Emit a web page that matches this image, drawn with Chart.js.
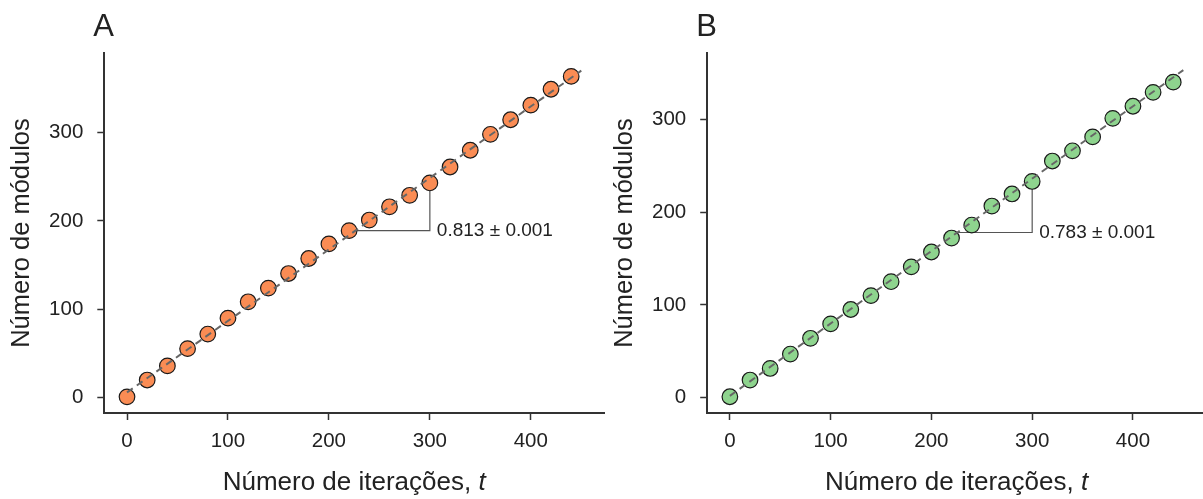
<!DOCTYPE html>
<html>
<head>
<meta charset="utf-8">
<script src="https://cdn.jsdelivr.net/npm/chart.js@4"></script>
<style>
  html, body { margin: 0; padding: 0; background: #fff; overflow: hidden; }
  body { width: 1203px; height: 499px; position: relative; }
  canvas { position: absolute; top: 0; }
  #panelA { left: 0; }
  #panelB { left: 600px; }
</style>
</head>
<body>
<canvas id="panelA" width="615" height="499"></canvas>
<canvas id="panelB" width="615" height="499"></canvas>
<script>
const iterations = [0, 20, 40, 60, 80, 100, 120, 140, 160, 180, 200, 220,
  240, 260, 280, 300, 320, 340, 360, 380, 400, 420, 440];
const modulesA = [1, 20, 36, 55.5, 72, 90, 108.5, 124, 140.5, 157.5, 174, 189,
  201, 216, 229, 243, 261, 280, 298, 314.5, 331, 349, 363.5];
const modulesB = [1, 19, 31.5, 47, 64, 79.5, 95, 110, 125, 141, 157, 172,
  186, 206.5, 219.5, 233, 255, 266, 281, 301, 314, 329, 340];

// dashed fit lines (end points)
const fitT = [0, 450];
const fitA = [6, 370];
const fitB = [2, 353];

// slope triangles
const triangleT = [220, 300, 300];
const triangleA = [189, 189, 243];
const triangleB = [178, 178, 233];
const slopeLabels = ["0.813 ± 0.001", "0.783 ± 0.001"];

const xTicks = [0, 100, 200, 300, 400];
const yTicks = [0, 100, 200, 300];

const FONT = '"Liberation Sans", Arial, Helvetica, sans-serif';
Chart.defaults.font.family = FONT;
Chart.defaults.color = "#222";

const pairs = (xs, ys) => xs.map((x, i) => ({ x, y: ys[i] }));

const annotate = {
  id: "annotate",
  afterDraw(chart, args, o) {
    const { ctx, chartArea, scales } = chart;
    const x = scales.x, y = scales.y;
    ctx.save();
    ctx.fillStyle = "#222";
    ctx.textAlign = "left";

    ctx.font = "19px " + FONT;
    ctx.textBaseline = "middle";
    ctx.fillText(o.slope, x.getPixelForValue(o.tx) + 7, y.getPixelForValue(o.ty));

    ctx.textBaseline = "alphabetic";
    ctx.font = "31px " + FONT;
    ctx.fillText(o.letter, chartArea.left - 11, 36);

    const plain = "Número de iterações, ";
    const ital = "t";
    ctx.font = "26px " + FONT;
    const w1 = ctx.measureText(plain).width;
    ctx.font = "italic 26px " + FONT;
    const w2 = ctx.measureText(ital).width;
    const cx = (chartArea.left + chartArea.right) / 2;
    const start = cx - (w1 + w2) / 2;
    ctx.font = "26px " + FONT;
    ctx.fillText(plain, start, 490);
    ctx.font = "italic 26px " + FONT;
    ctx.fillText(ital, start + w1, 490);
    ctx.restore();
  },
};

function makePanel(id, p) {
  new Chart(document.getElementById(id), {
    type: "scatter",
    data: {
      datasets: [
        {
          data: pairs(fitT, p.fit),
          showLine: true,
          borderColor: "#666",
          borderWidth: 2,
          borderDash: [7, 5],
          pointRadius: 0,
          order: 0,
        },
        {
          data: pairs(iterations, p.values),
          backgroundColor: p.color,
          borderColor: "#1a1a1a",
          borderWidth: 1.2,
          pointRadius: 7.8,
          order: 1,
        },
        {
          data: pairs(triangleT, p.triangle),
          showLine: true,
          borderColor: "#555",
          borderWidth: 1.2,
          pointRadius: 0,
          order: 2,
        },
      ],
    },
    options: {
      responsive: false,
      animation: false,
      devicePixelRatio: 1,
      layout: { padding: { top: 53, right: p.rightPad, left: 0, bottom: 0 } },
      plugins: {
        legend: { display: false },
        tooltip: { enabled: false },
        annotate: { slope: p.slope, tx: 300, ty: p.triangle[0], letter: p.letter },
      },
      scales: {
        x: {
          type: "linear",
          min: -22.5,
          max: 472.5,
          afterBuildTicks: (s) => { s.ticks = xTicks.map((v) => ({ value: v })); },
          afterFit: (s) => { s.height = 86; },
          ticks: { font: { size: 20.5 }, padding: 9, color: "#222" },
          grid: { drawOnChartArea: false, drawTicks: true, tickLength: 7, tickColor: "#333", tickWidth: 1.5 },
          border: { display: true, color: "#333", width: 2 },
        },
        y: {
          type: "linear",
          min: p.yMin,
          max: p.yMax,
          afterBuildTicks: (s) => { s.ticks = yTicks.map((v) => ({ value: v })); },
          afterFit: (s) => { s.width = p.yWidth; },
          ticks: { font: { size: 20.5 }, padding: 14, color: "#222" },
          grid: { drawOnChartArea: false, drawTicks: true, tickLength: 7, tickColor: "#333", tickWidth: 1.5 },
          border: { display: true, color: "#333", width: 2 },
          title: {
            display: true,
            text: "Número de módulos",
            font: { size: 25.5 },
            color: "#222",
            padding: { top: p.titlePad, bottom: 0 },
          },
        },
      },
    },
    plugins: [annotate],
  });
}

makePanel("panelA", {
  values: modulesA, fit: fitA, triangle: triangleA, slope: slopeLabels[0],
  color: "#FA8C54", letter: "A", yMin: -17.3, yMax: 390,
  yWidth: 104.3, rightPad: 11, titlePad: 7,
});
makePanel("panelB", {
  values: modulesB, fit: fitB, triangle: triangleB, slope: slopeLabels[1],
  color: "#8ED48E", letter: "B", yMin: -16.5, yMax: 371.4,
  yWidth: 107.2, rightPad: 7, titlePad: 9.9,
});
</script>
</body>
</html>
